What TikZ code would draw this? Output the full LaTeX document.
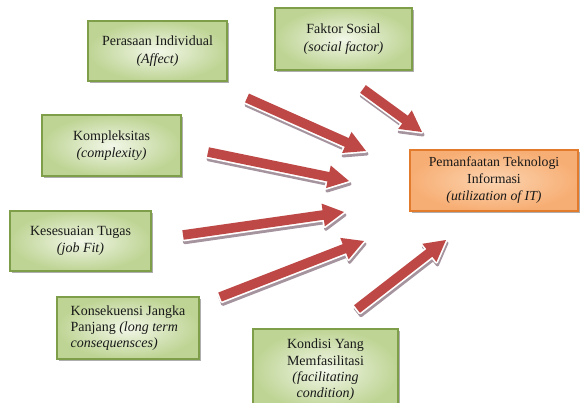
\documentclass[tikz,border=0pt]{standalone}
\usepackage{fontspec}
\setmainfont{Liberation Serif}
\usetikzlibrary{calc,shadows}
\definecolor{arrred}{RGB}{190,72,70}
\definecolor{arrshadow}{RGB}{165,148,158}
\definecolor{grnborder}{RGB}{126,158,74}
\definecolor{grnin}{RGB}{242,247,232}
\definecolor{grnout}{RGB}{190,212,148}
\definecolor{orgborder}{RGB}{226,124,44}
\definecolor{orgin}{RGB}{252,212,176}
\definecolor{orgout}{RGB}{247,174,116}
\definecolor{txt}{RGB}{25,25,25}
\newcommand\barrowpoly{(0pt,\bsw pt) -- (\bneck pt,\bsw pt) -- (\bneck pt,\bhw pt) -- (\blen pt,0pt) -- (\bneck pt,-\bhw pt) -- (\bneck pt,-\bsw pt) -- (0pt,-\bsw pt) -- cycle}
\newcommand\blockarrow[2]{%
  \path let \p1=($(#2)-(#1)$) in \pgfextra{%
    \pgfmathsetmacro\bang{atan2(\y1,\x1)}%
    \pgfmathsetmacro\blen{veclen(\x1,\y1)}%
    \pgfmathsetmacro\bneck{\blen-21}%
    \global\let\bang\bang\global\let\blen\blen\global\let\bneck\bneck};
  \def\bsw{4.8}\def\bhw{11.5}%
  \begin{scope}[shift={(#1)},xshift=1pt,yshift=-3pt,rotate=\bang]
    \filldraw[arrshadow,line width=3pt,line join=round] \barrowpoly;
  \end{scope}
  \begin{scope}[shift={(#1)},rotate=\bang]
    \filldraw[white,line width=3.4pt,line join=round] \barrowpoly;
    \fill[arrred] \barrowpoly;
  \end{scope}}
\tikzset{
  gbox/.style={draw=grnborder,line width=1.3pt,inner color=grnin,outer color=grnout,
    drop shadow={shadow xshift=1.8pt,shadow yshift=-2.2pt,opacity=0.45,fill=black!70},
    text=txt,align=center,inner sep=2pt,
    font=\fontsize{14}{17.5}\selectfont},
  obox/.style={gbox,draw=orgborder,inner color=orgin,outer color=orgout}
}
\begin{document}
\begin{tikzpicture}[x=1pt,y=-1pt]
\useasboundingbox (0,0) rectangle (581,403);
\node[gbox,minimum width=139pt,minimum height=60pt] (pi) at (157.5,51) {Perasaan Individual\\\textit{(Affect)}};
\node[gbox,minimum width=137pt,minimum height=62pt] (fs) at (343.5,39) {Faktor Sosial\\\textit{(social factor)}};
\node[gbox,minimum width=139pt,minimum height=61pt] (ko) at (111.5,145.5) {Kompleksitas\\\textit{(complexity)}};
\node[obox,minimum width=168pt,minimum height=61pt,font=\fontsize{13.8}{17}\selectfont] (pt) at (494,180.5) {Pemanfaatan Teknologi\\Informasi\\\textit{(utilization of IT)}};
\node[gbox,minimum width=141pt,minimum height=60pt] (kt) at (80.5,241) {Kesesuaian Tugas\\\textit{(job Fit)}};
\node[gbox,minimum width=142pt,minimum height=62pt,align=left,font=\fontsize{14}{16}\selectfont] (kj) at (128,328) {Konsekuensi Jangka\\Panjang \textit{(long term}\\\textit{consequensces)}};
\node[gbox,minimum width=145pt,minimum height=82pt,font=\fontsize{14}{16.3}\selectfont] (kf) at (325.5,370) {Kondisi Yang\\Memfasilitasi\\\textit{(facilitating}\\\textit{condition)}};
% arrow ends
\coordinate (a1) at (247,98);  \coordinate (b1) at (366,151);
\coordinate (a2) at (363,89);  \coordinate (b2) at (422,132);
\coordinate (a3) at (208,152); \coordinate (b3) at (349,181);
\coordinate (a4) at (183,235); \coordinate (b4) at (344,212);
\coordinate (a5) at (220,297); \coordinate (b5) at (364,241);
\coordinate (a6) at (357,309); \coordinate (b6) at (446,240);
\blockarrow{a1}{b1}
\blockarrow{a2}{b2}
\blockarrow{a3}{b3}
\blockarrow{a4}{b4}
\blockarrow{a5}{b5}
\blockarrow{a6}{b6}
\end{tikzpicture}
\end{document}
